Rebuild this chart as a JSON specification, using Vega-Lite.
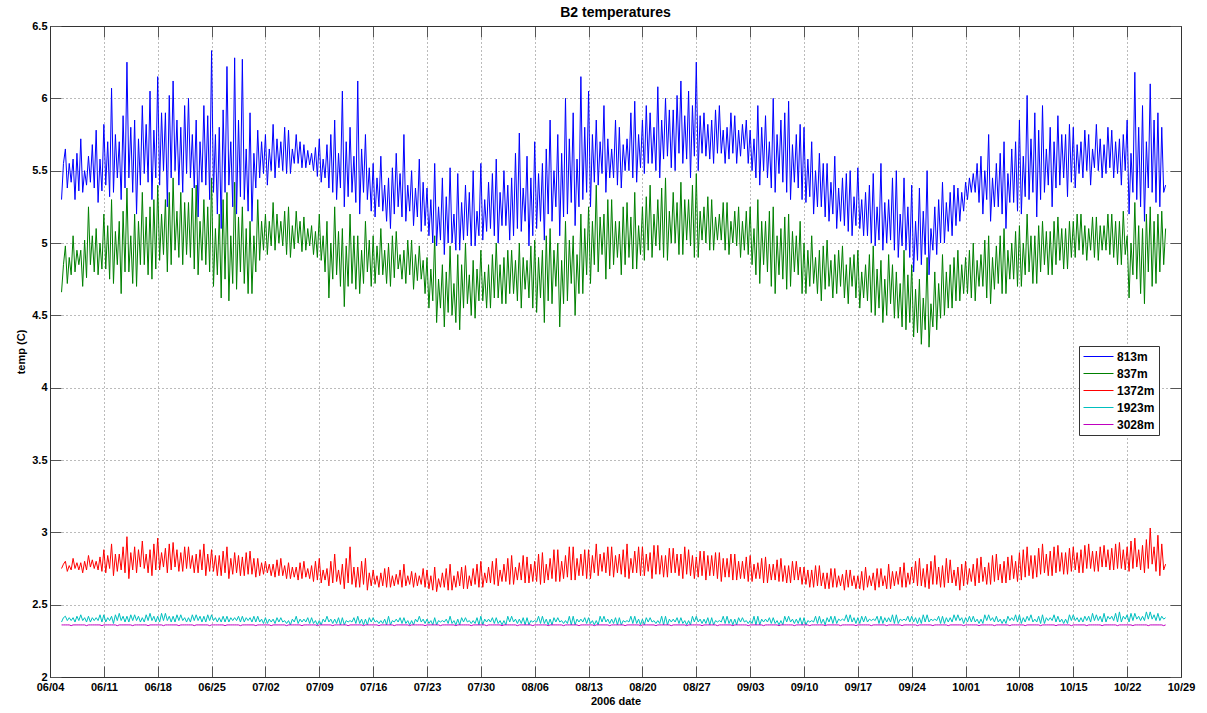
{
"$schema": "https://vega.github.io/schema/vega-lite/v6.json",
"width": 1131,
"height": 651,
"autosize": {"type": "none"},
"padding": {"left": 50, "top": 26, "right": 26, "bottom": 36},
"background": "white",
"config": {"font": "Liberation Sans", "view": {"stroke": null}},
"title": {"text": "B2 temperatures", "fontSize": 14, "fontWeight": "bold", "font": "Liberation Sans", "color": "black", "offset": 0, "anchor": "middle"},
"data": {"values": [
{"d":156.5,"b":5.30,"g":4.66,"r":2.75,"c":2.38,"p":2.36},
{"d":156.75,"b":5.55,"g":4.85,"r":2.78,"c":2.41,"p":2.36},
{"d":157,"b":5.65,"g":4.98,"r":2.80,"c":2.42,"p":2.36},
{"d":157.25,"b":5.38,"g":4.72,"r":2.73,"c":2.39,"p":2.36},
{"d":157.5,"b":5.55,"g":4.90,"r":2.77,"c":2.41,"p":2.36},
{"d":157.75,"b":5.42,"g":4.78,"r":2.74,"c":2.39,"p":2.355},
{"d":158,"b":5.58,"g":5.05,"r":2.82,"c":2.41,"p":2.36},
{"d":158.25,"b":5.30,"g":4.80,"r":2.75,"c":2.38,"p":2.36},
{"d":158.5,"b":5.62,"g":4.95,"r":2.79,"c":2.42,"p":2.36},
{"d":158.75,"b":5.36,"g":4.85,"r":2.74,"c":2.39,"p":2.36},
{"d":159,"b":5.72,"g":4.95,"r":2.79,"c":2.43,"p":2.36},
{"d":159.25,"b":5.35,"g":4.70,"r":2.72,"c":2.39,"p":2.36},
{"d":159.5,"b":5.50,"g":5.02,"r":2.80,"c":2.41,"p":2.36},
{"d":159.75,"b":5.40,"g":4.76,"r":2.74,"c":2.38,"p":2.355},
{"d":160,"b":5.60,"g":5.25,"r":2.84,"c":2.42,"p":2.36},
{"d":160.25,"b":5.42,"g":4.85,"r":2.76,"c":2.38,"p":2.36},
{"d":160.5,"b":5.68,"g":5.05,"r":2.81,"c":2.41,"p":2.36},
{"d":160.75,"b":5.38,"g":4.80,"r":2.75,"c":2.39,"p":2.36},
{"d":161,"b":5.78,"g":5.10,"r":2.80,"c":2.41,"p":2.36},
{"d":161.25,"b":5.28,"g":4.78,"r":2.74,"c":2.39,"p":2.36},
{"d":161.5,"b":5.58,"g":5.00,"r":2.83,"c":2.43,"p":2.36},
{"d":161.75,"b":5.36,"g":4.82,"r":2.73,"c":2.38,"p":2.355},
{"d":162,"b":5.82,"g":5.20,"r":2.88,"c":2.43,"p":2.36},
{"d":162.25,"b":5.40,"g":4.82,"r":2.72,"c":2.38,"p":2.36},
{"d":162.5,"b":5.70,"g":5.12,"r":2.84,"c":2.41,"p":2.36},
{"d":162.75,"b":5.32,"g":4.75,"r":2.75,"c":2.39,"p":2.36},
{"d":163,"b":6.07,"g":5.30,"r":2.92,"c":2.42,"p":2.36},
{"d":163.25,"b":5.35,"g":4.72,"r":2.70,"c":2.37,"p":2.36},
{"d":163.5,"b":5.75,"g":5.08,"r":2.85,"c":2.43,"p":2.36},
{"d":163.75,"b":5.45,"g":4.85,"r":2.73,"c":2.39,"p":2.355},
{"d":164,"b":5.70,"g":5.15,"r":2.85,"c":2.44,"p":2.36},
{"d":164.25,"b":5.30,"g":4.65,"r":2.74,"c":2.39,"p":2.36},
{"d":164.5,"b":5.88,"g":5.22,"r":2.90,"c":2.42,"p":2.36},
{"d":164.75,"b":5.38,"g":4.80,"r":2.72,"c":2.38,"p":2.36},
{"d":165,"b":6.25,"g":5.38,"r":2.97,"c":2.42,"p":2.36},
{"d":165.25,"b":5.45,"g":4.80,"r":2.68,"c":2.38,"p":2.36},
{"d":165.5,"b":5.80,"g":5.05,"r":2.86,"c":2.43,"p":2.36},
{"d":165.75,"b":5.35,"g":4.72,"r":2.74,"c":2.39,"p":2.355},
{"d":166,"b":5.85,"g":5.20,"r":2.90,"c":2.43,"p":2.36},
{"d":166.25,"b":5.20,"g":4.70,"r":2.72,"c":2.39,"p":2.36},
{"d":166.5,"b":5.72,"g":5.15,"r":2.88,"c":2.42,"p":2.36},
{"d":166.75,"b":5.40,"g":4.85,"r":2.76,"c":2.38,"p":2.36},
{"d":167,"b":5.95,"g":5.35,"r":2.94,"c":2.41,"p":2.36},
{"d":167.25,"b":5.48,"g":4.85,"r":2.75,"c":2.38,"p":2.36},
{"d":167.5,"b":5.82,"g":5.18,"r":2.85,"c":2.43,"p":2.36},
{"d":167.75,"b":5.42,"g":4.78,"r":2.72,"c":2.39,"p":2.355},
{"d":168,"b":6.05,"g":5.25,"r":2.88,"c":2.44,"p":2.36},
{"d":168.25,"b":5.30,"g":4.75,"r":2.70,"c":2.39,"p":2.36},
{"d":168.5,"b":5.78,"g":5.30,"r":2.92,"c":2.42,"p":2.36},
{"d":168.75,"b":5.45,"g":4.82,"r":2.74,"c":2.38,"p":2.36},
{"d":169,"b":6.15,"g":5.40,"r":2.96,"c":2.42,"p":2.36},
{"d":169.25,"b":5.40,"g":4.88,"r":2.74,"c":2.38,"p":2.36},
{"d":169.5,"b":5.90,"g":5.20,"r":2.86,"c":2.44,"p":2.36},
{"d":169.75,"b":5.50,"g":4.92,"r":2.76,"c":2.39,"p":2.355},
{"d":170,"b":5.90,"g":5.30,"r":2.89,"c":2.44,"p":2.36},
{"d":170.25,"b":5.25,"g":4.80,"r":2.72,"c":2.39,"p":2.36},
{"d":170.5,"b":6.02,"g":5.35,"r":2.92,"c":2.42,"p":2.36},
{"d":170.75,"b":5.45,"g":4.85,"r":2.74,"c":2.38,"p":2.36},
{"d":171,"b":6.12,"g":5.45,"r":2.93,"c":2.42,"p":2.36},
{"d":171.25,"b":5.50,"g":4.95,"r":2.76,"c":2.38,"p":2.36},
{"d":171.5,"b":5.85,"g":5.22,"r":2.88,"c":2.43,"p":2.36},
{"d":171.75,"b":5.40,"g":4.90,"r":2.73,"c":2.39,"p":2.355},
{"d":172,"b":5.80,"g":5.35,"r":2.86,"c":2.43,"p":2.36},
{"d":172.25,"b":5.35,"g":4.85,"r":2.73,"c":2.39,"p":2.36},
{"d":172.5,"b":5.95,"g":5.28,"r":2.90,"c":2.41,"p":2.36},
{"d":172.75,"b":5.48,"g":4.92,"r":2.75,"c":2.38,"p":2.36},
{"d":173,"b":6.00,"g":5.28,"r":2.90,"c":2.41,"p":2.36},
{"d":173.25,"b":5.45,"g":4.90,"r":2.75,"c":2.38,"p":2.36},
{"d":173.5,"b":5.75,"g":5.38,"r":2.84,"c":2.43,"p":2.36},
{"d":173.75,"b":5.38,"g":4.82,"r":2.72,"c":2.39,"p":2.355},
{"d":174,"b":5.85,"g":5.40,"r":2.85,"c":2.43,"p":2.36},
{"d":174.25,"b":5.18,"g":4.78,"r":2.72,"c":2.39,"p":2.36},
{"d":174.5,"b":5.70,"g":5.15,"r":2.88,"c":2.42,"p":2.36},
{"d":174.75,"b":5.42,"g":4.88,"r":2.74,"c":2.38,"p":2.36},
{"d":175,"b":5.95,"g":5.30,"r":2.92,"c":2.42,"p":2.36},
{"d":175.25,"b":5.40,"g":4.85,"r":2.70,"c":2.38,"p":2.36},
{"d":175.5,"b":5.88,"g":5.25,"r":2.85,"c":2.43,"p":2.36},
{"d":175.75,"b":5.30,"g":4.80,"r":2.73,"c":2.39,"p":2.355},
{"d":176,"b":6.33,"g":5.45,"r":2.88,"c":2.43,"p":2.36},
{"d":176.25,"b":5.35,"g":4.70,"r":2.73,"c":2.39,"p":2.36},
{"d":176.5,"b":5.75,"g":5.10,"r":2.84,"c":2.41,"p":2.36},
{"d":176.75,"b":5.20,"g":4.78,"r":2.70,"c":2.38,"p":2.36},
{"d":177,"b":5.80,"g":5.20,"r":2.84,"c":2.41,"p":2.36},
{"d":177.25,"b":5.10,"g":4.62,"r":2.70,"c":2.38,"p":2.36},
{"d":177.5,"b":5.92,"g":5.30,"r":2.87,"c":2.42,"p":2.36},
{"d":177.75,"b":5.35,"g":4.75,"r":2.72,"c":2.38,"p":2.355},
{"d":178,"b":6.22,"g":5.35,"r":2.90,"c":2.42,"p":2.36},
{"d":178.25,"b":5.40,"g":4.60,"r":2.68,"c":2.38,"p":2.36},
{"d":178.5,"b":5.70,"g":5.05,"r":2.82,"c":2.41,"p":2.36},
{"d":178.75,"b":5.25,"g":4.72,"r":2.71,"c":2.39,"p":2.36},
{"d":179,"b":6.28,"g":5.42,"r":2.86,"c":2.41,"p":2.36},
{"d":179.25,"b":5.20,"g":4.68,"r":2.72,"c":2.39,"p":2.36},
{"d":179.5,"b":5.85,"g":5.18,"r":2.84,"c":2.42,"p":2.36},
{"d":179.75,"b":5.32,"g":4.80,"r":2.70,"c":2.38,"p":2.355},
{"d":180,"b":6.27,"g":5.25,"r":2.83,"c":2.42,"p":2.36},
{"d":180.25,"b":5.30,"g":4.72,"r":2.70,"c":2.38,"p":2.36},
{"d":180.5,"b":5.65,"g":5.10,"r":2.86,"c":2.41,"p":2.36},
{"d":180.75,"b":5.22,"g":4.65,"r":2.71,"c":2.39,"p":2.36},
{"d":181,"b":5.90,"g":5.15,"r":2.87,"c":2.41,"p":2.36},
{"d":181.25,"b":5.15,"g":4.65,"r":2.71,"c":2.38,"p":2.36},
{"d":181.5,"b":5.62,"g":5.05,"r":2.82,"c":2.42,"p":2.36},
{"d":181.75,"b":5.38,"g":4.80,"r":2.69,"c":2.38,"p":2.355},
{"d":182,"b":5.78,"g":5.30,"r":2.82,"c":2.42,"p":2.36},
{"d":182.25,"b":5.45,"g":4.88,"r":2.70,"c":2.38,"p":2.36},
{"d":182.5,"b":5.70,"g":5.15,"r":2.79,"c":2.40,"p":2.36},
{"d":182.75,"b":5.48,"g":4.95,"r":2.71,"c":2.37,"p":2.36},
{"d":183,"b":5.75,"g":5.20,"r":2.80,"c":2.41,"p":2.36},
{"d":183.25,"b":5.40,"g":4.92,"r":2.72,"c":2.37,"p":2.36},
{"d":183.5,"b":5.65,"g":5.15,"r":2.78,"c":2.40,"p":2.36},
{"d":183.75,"b":5.50,"g":4.98,"r":2.70,"c":2.38,"p":2.355},
{"d":184,"b":5.82,"g":5.28,"r":2.78,"c":2.40,"p":2.36},
{"d":184.25,"b":5.45,"g":4.95,"r":2.69,"c":2.37,"p":2.36},
{"d":184.5,"b":5.72,"g":5.20,"r":2.81,"c":2.41,"p":2.36},
{"d":184.75,"b":5.52,"g":5.00,"r":2.70,"c":2.38,"p":2.36},
{"d":185,"b":5.70,"g":5.15,"r":2.82,"c":2.41,"p":2.36},
{"d":185.25,"b":5.50,"g":4.98,"r":2.70,"c":2.38,"p":2.36},
{"d":185.5,"b":5.80,"g":5.22,"r":2.77,"c":2.39,"p":2.36},
{"d":185.75,"b":5.48,"g":4.92,"r":2.68,"c":2.37,"p":2.355},
{"d":186,"b":5.78,"g":5.25,"r":2.79,"c":2.39,"p":2.36},
{"d":186.25,"b":5.48,"g":4.90,"r":2.68,"c":2.36,"p":2.36},
{"d":186.5,"b":5.65,"g":5.12,"r":2.76,"c":2.40,"p":2.36},
{"d":186.75,"b":5.55,"g":4.96,"r":2.69,"c":2.38,"p":2.36},
{"d":187,"b":5.75,"g":5.22,"r":2.76,"c":2.42,"p":2.36},
{"d":187.25,"b":5.55,"g":5.00,"r":2.67,"c":2.37,"p":2.36},
{"d":187.5,"b":5.70,"g":5.15,"r":2.79,"c":2.40,"p":2.36},
{"d":187.75,"b":5.52,"g":4.94,"r":2.68,"c":2.38,"p":2.355},
{"d":188,"b":5.68,"g":5.18,"r":2.80,"c":2.40,"p":2.36},
{"d":188.25,"b":5.52,"g":4.95,"r":2.69,"c":2.38,"p":2.36},
{"d":188.5,"b":5.64,"g":5.10,"r":2.75,"c":2.41,"p":2.36},
{"d":188.75,"b":5.54,"g":4.98,"r":2.68,"c":2.37,"p":2.36},
{"d":189,"b":5.62,"g":5.12,"r":2.77,"c":2.41,"p":2.36},
{"d":189.25,"b":5.50,"g":4.92,"r":2.66,"c":2.37,"p":2.36},
{"d":189.5,"b":5.66,"g":5.08,"r":2.80,"c":2.39,"p":2.36},
{"d":189.75,"b":5.46,"g":4.90,"r":2.67,"c":2.36,"p":2.355},
{"d":190,"b":5.72,"g":5.20,"r":2.82,"c":2.39,"p":2.36},
{"d":190.25,"b":5.42,"g":4.88,"r":2.65,"c":2.36,"p":2.36},
{"d":190.5,"b":5.58,"g":5.05,"r":2.74,"c":2.40,"p":2.36},
{"d":190.75,"b":5.45,"g":4.80,"r":2.67,"c":2.38,"p":2.36},
{"d":191,"b":5.68,"g":5.15,"r":2.75,"c":2.42,"p":2.36},
{"d":191.25,"b":5.38,"g":4.62,"r":2.63,"c":2.38,"p":2.36},
{"d":191.5,"b":5.75,"g":5.00,"r":2.80,"c":2.40,"p":2.36},
{"d":191.75,"b":5.35,"g":4.75,"r":2.65,"c":2.37,"p":2.355},
{"d":192,"b":5.85,"g":5.25,"r":2.85,"c":2.40,"p":2.36},
{"d":192.25,"b":5.30,"g":4.78,"r":2.66,"c":2.37,"p":2.36},
{"d":192.5,"b":5.62,"g":5.08,"r":2.74,"c":2.41,"p":2.36},
{"d":192.75,"b":5.38,"g":4.70,"r":2.64,"c":2.36,"p":2.36},
{"d":193,"b":6.05,"g":5.10,"r":2.78,"c":2.41,"p":2.36},
{"d":193.25,"b":5.25,"g":4.56,"r":2.61,"c":2.36,"p":2.36},
{"d":193.5,"b":5.70,"g":4.98,"r":2.82,"c":2.39,"p":2.36},
{"d":193.75,"b":5.32,"g":4.70,"r":2.65,"c":2.38,"p":2.355},
{"d":194,"b":5.80,"g":5.20,"r":2.90,"c":2.39,"p":2.36},
{"d":194.25,"b":5.35,"g":4.72,"r":2.64,"c":2.38,"p":2.36},
{"d":194.5,"b":5.60,"g":5.05,"r":2.76,"c":2.41,"p":2.36},
{"d":194.75,"b":5.28,"g":4.68,"r":2.62,"c":2.37,"p":2.36},
{"d":195,"b":6.12,"g":5.05,"r":2.76,"c":2.42,"p":2.36},
{"d":195.25,"b":5.20,"g":4.65,"r":2.62,"c":2.37,"p":2.36},
{"d":195.5,"b":5.65,"g":4.95,"r":2.80,"c":2.40,"p":2.36},
{"d":195.75,"b":5.35,"g":4.72,"r":2.64,"c":2.36,"p":2.355},
{"d":196,"b":5.75,"g":5.15,"r":2.82,"c":2.40,"p":2.36},
{"d":196.25,"b":5.30,"g":4.80,"r":2.60,"c":2.36,"p":2.36},
{"d":196.5,"b":5.52,"g":5.02,"r":2.72,"c":2.41,"p":2.36},
{"d":196.75,"b":5.22,"g":4.70,"r":2.63,"c":2.38,"p":2.36},
{"d":197,"b":5.55,"g":5.05,"r":2.74,"c":2.41,"p":2.36},
{"d":197.25,"b":5.18,"g":4.72,"r":2.64,"c":2.38,"p":2.36},
{"d":197.5,"b":5.45,"g":4.98,"r":2.70,"c":2.39,"p":2.36},
{"d":197.75,"b":5.25,"g":4.78,"r":2.62,"c":2.37,"p":2.355},
{"d":198,"b":5.60,"g":5.10,"r":2.72,"c":2.39,"p":2.36},
{"d":198.25,"b":5.22,"g":4.78,"r":2.63,"c":2.37,"p":2.36},
{"d":198.5,"b":5.40,"g":4.95,"r":2.75,"c":2.40,"p":2.36},
{"d":198.75,"b":5.15,"g":4.72,"r":2.62,"c":2.36,"p":2.36},
{"d":199,"b":5.45,"g":5.00,"r":2.76,"c":2.42,"p":2.36},
{"d":199.25,"b":5.10,"g":4.70,"r":2.62,"c":2.36,"p":2.36},
{"d":199.5,"b":5.52,"g":5.05,"r":2.70,"c":2.39,"p":2.36},
{"d":199.75,"b":5.20,"g":4.76,"r":2.63,"c":2.38,"p":2.355},
{"d":200,"b":5.62,"g":5.08,"r":2.71,"c":2.40,"p":2.36},
{"d":200.25,"b":5.25,"g":4.82,"r":2.64,"c":2.38,"p":2.36},
{"d":200.5,"b":5.48,"g":4.92,"r":2.74,"c":2.41,"p":2.36},
{"d":200.75,"b":5.18,"g":4.75,"r":2.62,"c":2.37,"p":2.36},
{"d":201,"b":5.75,"g":4.95,"r":2.78,"c":2.41,"p":2.36},
{"d":201.25,"b":5.15,"g":4.72,"r":2.63,"c":2.37,"p":2.36},
{"d":201.5,"b":5.40,"g":5.02,"r":2.70,"c":2.39,"p":2.36},
{"d":201.75,"b":5.22,"g":4.78,"r":2.64,"c":2.36,"p":2.355},
{"d":202,"b":5.50,"g":5.02,"r":2.73,"c":2.39,"p":2.36},
{"d":202.25,"b":5.12,"g":4.68,"r":2.62,"c":2.36,"p":2.36},
{"d":202.5,"b":5.38,"g":4.92,"r":2.72,"c":2.40,"p":2.36},
{"d":202.75,"b":5.18,"g":4.74,"r":2.63,"c":2.38,"p":2.36},
{"d":203,"b":5.58,"g":4.98,"r":2.70,"c":2.42,"p":2.36},
{"d":203.25,"b":5.08,"g":4.75,"r":2.64,"c":2.38,"p":2.36},
{"d":203.5,"b":5.42,"g":4.88,"r":2.75,"c":2.40,"p":2.36},
{"d":203.75,"b":5.12,"g":4.65,"r":2.62,"c":2.37,"p":2.355},
{"d":204,"b":5.38,"g":4.90,"r":2.74,"c":2.40,"p":2.36},
{"d":204.25,"b":5.05,"g":4.55,"r":2.61,"c":2.37,"p":2.36},
{"d":204.5,"b":5.30,"g":4.82,"r":2.70,"c":2.39,"p":2.36},
{"d":204.75,"b":5.00,"g":4.60,"r":2.60,"c":2.36,"p":2.36},
{"d":205,"b":5.55,"g":5.05,"r":2.76,"c":2.41,"p":2.36},
{"d":205.25,"b":4.98,"g":4.45,"r":2.59,"c":2.36,"p":2.36},
{"d":205.5,"b":5.25,"g":4.75,"r":2.68,"c":2.39,"p":2.36},
{"d":205.75,"b":5.02,"g":4.55,"r":2.62,"c":2.38,"p":2.355},
{"d":206,"b":5.45,"g":4.85,"r":2.72,"c":2.39,"p":2.36},
{"d":206.25,"b":4.92,"g":4.42,"r":2.62,"c":2.38,"p":2.36},
{"d":206.5,"b":5.32,"g":4.80,"r":2.75,"c":2.40,"p":2.36},
{"d":206.75,"b":5.00,"g":4.52,"r":2.60,"c":2.37,"p":2.36},
{"d":207,"b":5.52,"g":4.98,"r":2.78,"c":2.42,"p":2.36},
{"d":207.25,"b":5.00,"g":4.50,"r":2.60,"c":2.37,"p":2.36},
{"d":207.5,"b":5.20,"g":4.72,"r":2.70,"c":2.39,"p":2.36},
{"d":207.75,"b":4.95,"g":4.45,"r":2.62,"c":2.36,"p":2.355},
{"d":208,"b":5.48,"g":4.92,"r":2.73,"c":2.40,"p":2.36},
{"d":208.25,"b":4.95,"g":4.40,"r":2.63,"c":2.36,"p":2.36},
{"d":208.5,"b":5.28,"g":4.85,"r":2.76,"c":2.41,"p":2.36},
{"d":208.75,"b":5.02,"g":4.55,"r":2.61,"c":2.38,"p":2.36},
{"d":209,"b":5.40,"g":5.00,"r":2.77,"c":2.41,"p":2.36},
{"d":209.25,"b":5.05,"g":4.58,"r":2.61,"c":2.38,"p":2.36},
{"d":209.5,"b":5.35,"g":4.78,"r":2.70,"c":2.39,"p":2.36},
{"d":209.75,"b":4.98,"g":4.50,"r":2.63,"c":2.37,"p":2.355},
{"d":210,"b":5.50,"g":4.88,"r":2.75,"c":2.39,"p":2.36},
{"d":210.25,"b":4.98,"g":4.48,"r":2.64,"c":2.37,"p":2.36},
{"d":210.5,"b":5.22,"g":4.82,"r":2.78,"c":2.41,"p":2.36},
{"d":210.75,"b":5.05,"g":4.60,"r":2.62,"c":2.36,"p":2.36},
{"d":211,"b":5.55,"g":4.95,"r":2.80,"c":2.42,"p":2.36},
{"d":211.25,"b":5.02,"g":4.60,"r":2.62,"c":2.36,"p":2.36},
{"d":211.5,"b":5.30,"g":4.80,"r":2.72,"c":2.40,"p":2.36},
{"d":211.75,"b":5.08,"g":4.55,"r":2.65,"c":2.38,"p":2.355},
{"d":212,"b":5.42,"g":4.85,"r":2.76,"c":2.40,"p":2.36},
{"d":212.25,"b":5.10,"g":4.55,"r":2.65,"c":2.38,"p":2.36},
{"d":212.5,"b":5.48,"g":4.92,"r":2.80,"c":2.41,"p":2.36},
{"d":212.75,"b":5.05,"g":4.62,"r":2.64,"c":2.37,"p":2.36},
{"d":213,"b":5.58,"g":5.00,"r":2.82,"c":2.41,"p":2.36},
{"d":213.25,"b":5.00,"g":4.62,"r":2.63,"c":2.37,"p":2.36},
{"d":213.5,"b":5.35,"g":4.85,"r":2.74,"c":2.39,"p":2.36},
{"d":213.75,"b":5.12,"g":4.58,"r":2.66,"c":2.36,"p":2.355},
{"d":214,"b":5.50,"g":4.90,"r":2.78,"c":2.39,"p":2.36},
{"d":214.25,"b":5.12,"g":4.58,"r":2.66,"c":2.36,"p":2.36},
{"d":214.5,"b":5.40,"g":4.95,"r":2.82,"c":2.42,"p":2.36},
{"d":214.75,"b":5.02,"g":4.65,"r":2.64,"c":2.38,"p":2.36},
{"d":215,"b":5.45,"g":4.95,"r":2.84,"c":2.42,"p":2.36},
{"d":215.25,"b":5.05,"g":4.65,"r":2.64,"c":2.38,"p":2.36},
{"d":215.5,"b":5.62,"g":4.88,"r":2.76,"c":2.40,"p":2.36},
{"d":215.75,"b":5.10,"g":4.60,"r":2.67,"c":2.37,"p":2.355},
{"d":216,"b":5.76,"g":5.00,"r":2.79,"c":2.40,"p":2.36},
{"d":216.25,"b":5.08,"g":4.55,"r":2.67,"c":2.37,"p":2.36},
{"d":216.5,"b":5.38,"g":4.90,"r":2.84,"c":2.41,"p":2.36},
{"d":216.75,"b":5.15,"g":4.68,"r":2.65,"c":2.36,"p":2.36},
{"d":217,"b":5.60,"g":4.88,"r":2.83,"c":2.41,"p":2.36},
{"d":217.25,"b":4.98,"g":4.62,"r":2.65,"c":2.36,"p":2.36},
{"d":217.5,"b":5.45,"g":4.98,"r":2.78,"c":2.39,"p":2.36},
{"d":217.75,"b":5.05,"g":4.55,"r":2.66,"c":2.38,"p":2.355},
{"d":218,"b":5.70,"g":5.02,"r":2.80,"c":2.39,"p":2.36},
{"d":218.25,"b":5.10,"g":4.52,"r":2.66,"c":2.38,"p":2.36},
{"d":218.5,"b":5.48,"g":4.90,"r":2.85,"c":2.42,"p":2.36},
{"d":218.75,"b":5.15,"g":4.62,"r":2.64,"c":2.37,"p":2.36},
{"d":219,"b":5.55,"g":4.95,"r":2.86,"c":2.42,"p":2.36},
{"d":219.25,"b":5.02,"g":4.45,"r":2.65,"c":2.37,"p":2.36},
{"d":219.5,"b":5.65,"g":5.05,"r":2.78,"c":2.40,"p":2.36},
{"d":219.75,"b":5.20,"g":4.60,"r":2.67,"c":2.36,"p":2.355},
{"d":220,"b":5.85,"g":5.10,"r":2.82,"c":2.40,"p":2.36},
{"d":220.25,"b":5.15,"g":4.58,"r":2.68,"c":2.36,"p":2.36},
{"d":220.5,"b":5.50,"g":4.95,"r":2.88,"c":2.41,"p":2.36},
{"d":220.75,"b":5.25,"g":4.70,"r":2.66,"c":2.38,"p":2.36},
{"d":221,"b":5.75,"g":5.00,"r":2.88,"c":2.41,"p":2.36},
{"d":221.25,"b":5.05,"g":4.42,"r":2.66,"c":2.38,"p":2.36},
{"d":221.5,"b":5.62,"g":4.88,"r":2.80,"c":2.39,"p":2.36},
{"d":221.75,"b":5.18,"g":4.58,"r":2.68,"c":2.37,"p":2.355},
{"d":222,"b":6.00,"g":5.15,"r":2.84,"c":2.39,"p":2.36},
{"d":222.25,"b":5.20,"g":4.60,"r":2.69,"c":2.37,"p":2.36},
{"d":222.5,"b":5.72,"g":5.02,"r":2.90,"c":2.42,"p":2.36},
{"d":222.75,"b":5.28,"g":4.72,"r":2.67,"c":2.36,"p":2.36},
{"d":223,"b":5.90,"g":5.05,"r":2.90,"c":2.42,"p":2.36},
{"d":223.25,"b":5.12,"g":4.50,"r":2.67,"c":2.36,"p":2.36},
{"d":223.5,"b":5.58,"g":4.92,"r":2.82,"c":2.40,"p":2.36},
{"d":223.75,"b":5.25,"g":4.65,"r":2.70,"c":2.38,"p":2.355},
{"d":224,"b":6.15,"g":5.20,"r":2.85,"c":2.40,"p":2.36},
{"d":224.25,"b":5.30,"g":4.65,"r":2.70,"c":2.38,"p":2.36},
{"d":224.5,"b":5.80,"g":5.10,"r":2.88,"c":2.41,"p":2.36},
{"d":224.75,"b":5.35,"g":4.78,"r":2.68,"c":2.37,"p":2.36},
{"d":225,"b":6.05,"g":5.25,"r":2.88,"c":2.41,"p":2.36},
{"d":225.25,"b":5.25,"g":4.72,"r":2.68,"c":2.37,"p":2.36},
{"d":225.5,"b":5.75,"g":5.15,"r":2.84,"c":2.39,"p":2.36},
{"d":225.75,"b":5.42,"g":4.85,"r":2.72,"c":2.36,"p":2.355},
{"d":226,"b":5.85,"g":5.40,"r":2.92,"c":2.39,"p":2.36},
{"d":226.25,"b":5.40,"g":4.80,"r":2.70,"c":2.36,"p":2.36},
{"d":226.5,"b":5.70,"g":5.18,"r":2.85,"c":2.42,"p":2.36},
{"d":226.75,"b":5.48,"g":4.92,"r":2.73,"c":2.38,"p":2.36},
{"d":227,"b":5.95,"g":5.20,"r":2.86,"c":2.42,"p":2.36},
{"d":227.25,"b":5.35,"g":4.75,"r":2.72,"c":2.38,"p":2.36},
{"d":227.5,"b":5.72,"g":5.30,"r":2.90,"c":2.40,"p":2.36},
{"d":227.75,"b":5.45,"g":4.82,"r":2.70,"c":2.37,"p":2.355},
{"d":228,"b":5.65,"g":5.30,"r":2.90,"c":2.40,"p":2.36},
{"d":228.25,"b":5.45,"g":4.85,"r":2.69,"c":2.37,"p":2.36},
{"d":228.5,"b":5.85,"g":5.15,"r":2.84,"c":2.41,"p":2.36},
{"d":228.75,"b":5.40,"g":4.90,"r":2.72,"c":2.36,"p":2.36},
{"d":229,"b":5.80,"g":5.15,"r":2.85,"c":2.41,"p":2.36},
{"d":229.25,"b":5.38,"g":4.78,"r":2.71,"c":2.36,"p":2.36},
{"d":229.5,"b":5.68,"g":5.25,"r":2.88,"c":2.39,"p":2.36},
{"d":229.75,"b":5.50,"g":4.85,"r":2.69,"c":2.38,"p":2.355},
{"d":230,"b":5.72,"g":5.28,"r":2.92,"c":2.39,"p":2.36},
{"d":230.25,"b":5.50,"g":4.90,"r":2.68,"c":2.38,"p":2.36},
{"d":230.5,"b":5.90,"g":5.18,"r":2.82,"c":2.42,"p":2.36},
{"d":230.75,"b":5.45,"g":4.82,"r":2.72,"c":2.37,"p":2.36},
{"d":231,"b":5.98,"g":5.35,"r":2.87,"c":2.42,"p":2.36},
{"d":231.25,"b":5.42,"g":4.82,"r":2.72,"c":2.37,"p":2.36},
{"d":231.5,"b":5.75,"g":5.12,"r":2.90,"c":2.40,"p":2.36},
{"d":231.75,"b":5.52,"g":4.92,"r":2.70,"c":2.36,"p":2.355},
{"d":232,"b":5.85,"g":5.25,"r":2.90,"c":2.40,"p":2.36},
{"d":232.25,"b":5.48,"g":4.88,"r":2.70,"c":2.36,"p":2.36},
{"d":232.5,"b":5.95,"g":5.32,"r":2.85,"c":2.41,"p":2.36},
{"d":232.75,"b":5.55,"g":4.95,"r":2.73,"c":2.38,"p":2.36},
{"d":233,"b":5.90,"g":5.40,"r":2.86,"c":2.41,"p":2.36},
{"d":233.25,"b":5.55,"g":4.90,"r":2.68,"c":2.38,"p":2.36},
{"d":233.5,"b":5.80,"g":5.20,"r":2.91,"c":2.39,"p":2.36},
{"d":233.75,"b":5.50,"g":4.98,"r":2.71,"c":2.37,"p":2.355},
{"d":234,"b":6.08,"g":5.30,"r":2.91,"c":2.39,"p":2.36},
{"d":234.25,"b":5.45,"g":4.95,"r":2.71,"c":2.37,"p":2.36},
{"d":234.5,"b":5.85,"g":5.38,"r":2.84,"c":2.42,"p":2.36},
{"d":234.75,"b":5.58,"g":4.90,"r":2.69,"c":2.36,"p":2.36},
{"d":235,"b":6.00,"g":5.45,"r":2.84,"c":2.42,"p":2.36},
{"d":235.25,"b":5.60,"g":4.88,"r":2.69,"c":2.36,"p":2.36},
{"d":235.5,"b":5.92,"g":5.22,"r":2.89,"c":2.40,"p":2.36},
{"d":235.75,"b":5.52,"g":5.00,"r":2.72,"c":2.38,"p":2.355},
{"d":236,"b":5.92,"g":5.35,"r":2.89,"c":2.40,"p":2.36},
{"d":236.25,"b":5.50,"g":5.00,"r":2.72,"c":2.38,"p":2.36},
{"d":236.5,"b":6.02,"g":5.28,"r":2.85,"c":2.41,"p":2.36},
{"d":236.75,"b":5.62,"g":4.92,"r":2.70,"c":2.37,"p":2.36},
{"d":237,"b":6.12,"g":5.42,"r":2.85,"c":2.41,"p":2.36},
{"d":237.25,"b":5.55,"g":4.92,"r":2.68,"c":2.37,"p":2.36},
{"d":237.5,"b":5.88,"g":5.30,"r":2.90,"c":2.39,"p":2.36},
{"d":237.75,"b":5.58,"g":5.02,"r":2.71,"c":2.36,"p":2.355},
{"d":238,"b":6.05,"g":5.30,"r":2.88,"c":2.39,"p":2.36},
{"d":238.25,"b":5.45,"g":4.98,"r":2.70,"c":2.36,"p":2.36},
{"d":238.5,"b":5.95,"g":5.40,"r":2.84,"c":2.42,"p":2.36},
{"d":238.75,"b":5.60,"g":4.90,"r":2.68,"c":2.38,"p":2.36},
{"d":239,"b":6.25,"g":5.48,"r":2.83,"c":2.42,"p":2.36},
{"d":239.25,"b":5.50,"g":4.90,"r":2.69,"c":2.38,"p":2.36},
{"d":239.5,"b":5.88,"g":5.22,"r":2.87,"c":2.40,"p":2.36},
{"d":239.75,"b":5.62,"g":5.02,"r":2.70,"c":2.37,"p":2.355},
{"d":240,"b":5.90,"g":5.25,"r":2.87,"c":2.40,"p":2.36},
{"d":240.25,"b":5.60,"g":5.00,"r":2.67,"c":2.37,"p":2.36},
{"d":240.5,"b":5.82,"g":5.32,"r":2.84,"c":2.41,"p":2.36},
{"d":240.75,"b":5.58,"g":4.95,"r":2.70,"c":2.36,"p":2.36},
{"d":241,"b":5.85,"g":5.30,"r":2.84,"c":2.41,"p":2.36},
{"d":241.25,"b":5.55,"g":4.95,"r":2.70,"c":2.36,"p":2.36},
{"d":241.5,"b":5.92,"g":5.18,"r":2.86,"c":2.39,"p":2.36},
{"d":241.75,"b":5.62,"g":5.02,"r":2.68,"c":2.38,"p":2.355},
{"d":242,"b":5.95,"g":5.20,"r":2.86,"c":2.39,"p":2.36},
{"d":242.25,"b":5.62,"g":5.02,"r":2.66,"c":2.38,"p":2.36},
{"d":242.5,"b":5.78,"g":5.28,"r":2.82,"c":2.42,"p":2.36},
{"d":242.75,"b":5.55,"g":4.95,"r":2.69,"c":2.37,"p":2.36},
{"d":243,"b":5.80,"g":5.28,"r":2.82,"c":2.42,"p":2.36},
{"d":243.25,"b":5.58,"g":4.92,"r":2.69,"c":2.37,"p":2.36},
{"d":243.5,"b":5.90,"g":5.15,"r":2.85,"c":2.40,"p":2.36},
{"d":243.75,"b":5.62,"g":5.00,"r":2.67,"c":2.36,"p":2.355},
{"d":244,"b":5.88,"g":5.22,"r":2.85,"c":2.40,"p":2.36},
{"d":244.25,"b":5.55,"g":4.98,"r":2.67,"c":2.36,"p":2.36},
{"d":244.5,"b":5.78,"g":5.25,"r":2.80,"c":2.41,"p":2.36},
{"d":244.75,"b":5.60,"g":4.90,"r":2.68,"c":2.38,"p":2.36},
{"d":245,"b":5.82,"g":5.15,"r":2.80,"c":2.41,"p":2.36},
{"d":245.25,"b":5.65,"g":4.95,"r":2.68,"c":2.38,"p":2.36},
{"d":245.5,"b":5.85,"g":5.22,"r":2.83,"c":2.39,"p":2.36},
{"d":245.75,"b":5.55,"g":4.92,"r":2.66,"c":2.37,"p":2.355},
{"d":246,"b":5.78,"g":5.25,"r":2.84,"c":2.39,"p":2.36},
{"d":246.25,"b":5.50,"g":4.85,"r":2.66,"c":2.37,"p":2.36},
{"d":246.5,"b":5.72,"g":5.10,"r":2.78,"c":2.42,"p":2.36},
{"d":246.75,"b":5.45,"g":4.78,"r":2.68,"c":2.36,"p":2.36},
{"d":247,"b":5.95,"g":5.30,"r":2.79,"c":2.42,"p":2.36},
{"d":247.25,"b":5.40,"g":4.72,"r":2.68,"c":2.36,"p":2.36},
{"d":247.5,"b":5.80,"g":5.15,"r":2.82,"c":2.40,"p":2.36},
{"d":247.75,"b":5.50,"g":4.85,"r":2.65,"c":2.38,"p":2.355},
{"d":248,"b":5.88,"g":5.15,"r":2.83,"c":2.40,"p":2.36},
{"d":248.25,"b":5.45,"g":4.80,"r":2.65,"c":2.38,"p":2.36},
{"d":248.5,"b":5.70,"g":5.22,"r":2.78,"c":2.41,"p":2.36},
{"d":248.75,"b":5.38,"g":4.70,"r":2.67,"c":2.37,"p":2.36},
{"d":249,"b":6.00,"g":5.25,"r":2.78,"c":2.41,"p":2.36},
{"d":249.25,"b":5.35,"g":4.65,"r":2.67,"c":2.37,"p":2.36},
{"d":249.5,"b":5.75,"g":5.05,"r":2.81,"c":2.39,"p":2.36},
{"d":249.75,"b":5.48,"g":4.78,"r":2.66,"c":2.36,"p":2.355},
{"d":250,"b":5.85,"g":5.10,"r":2.82,"c":2.39,"p":2.36},
{"d":250.25,"b":5.42,"g":4.75,"r":2.66,"c":2.36,"p":2.36},
{"d":250.5,"b":5.90,"g":5.18,"r":2.77,"c":2.42,"p":2.36},
{"d":250.75,"b":5.35,"g":4.68,"r":2.65,"c":2.38,"p":2.36},
{"d":251,"b":5.98,"g":5.20,"r":2.77,"c":2.42,"p":2.36},
{"d":251.25,"b":5.30,"g":4.70,"r":2.65,"c":2.38,"p":2.36},
{"d":251.5,"b":5.68,"g":5.08,"r":2.80,"c":2.40,"p":2.36},
{"d":251.75,"b":5.42,"g":4.80,"r":2.67,"c":2.37,"p":2.355},
{"d":252,"b":5.75,"g":5.05,"r":2.80,"c":2.40,"p":2.36},
{"d":252.25,"b":5.38,"g":4.78,"r":2.67,"c":2.37,"p":2.36},
{"d":252.5,"b":5.82,"g":5.15,"r":2.76,"c":2.41,"p":2.36},
{"d":252.75,"b":5.30,"g":4.65,"r":2.64,"c":2.36,"p":2.36},
{"d":253,"b":5.80,"g":5.00,"r":2.76,"c":2.41,"p":2.36},
{"d":253.25,"b":5.28,"g":4.65,"r":2.64,"c":2.36,"p":2.36},
{"d":253.5,"b":5.58,"g":4.95,"r":2.74,"c":2.39,"p":2.36},
{"d":253.75,"b":5.32,"g":4.70,"r":2.62,"c":2.38,"p":2.355},
{"d":254,"b":5.70,"g":5.05,"r":2.74,"c":2.39,"p":2.36},
{"d":254.25,"b":5.20,"g":4.72,"r":2.62,"c":2.38,"p":2.36},
{"d":254.5,"b":5.50,"g":4.90,"r":2.77,"c":2.42,"p":2.36},
{"d":254.75,"b":5.25,"g":4.65,"r":2.63,"c":2.37,"p":2.36},
{"d":255,"b":5.62,"g":4.95,"r":2.77,"c":2.42,"p":2.36},
{"d":255.25,"b":5.25,"g":4.60,"r":2.63,"c":2.37,"p":2.36},
{"d":255.5,"b":5.55,"g":4.98,"r":2.72,"c":2.40,"p":2.36},
{"d":255.75,"b":5.18,"g":4.68,"r":2.61,"c":2.36,"p":2.355},
{"d":256,"b":5.55,"g":5.02,"r":2.72,"c":2.41,"p":2.36},
{"d":256.25,"b":5.15,"g":4.70,"r":2.61,"c":2.38,"p":2.36},
{"d":256.5,"b":5.42,"g":4.88,"r":2.75,"c":2.42,"p":2.36},
{"d":256.75,"b":5.20,"g":4.62,"r":2.62,"c":2.37,"p":2.36},
{"d":257,"b":5.60,"g":4.92,"r":2.75,"c":2.42,"p":2.36},
{"d":257.25,"b":5.10,"g":4.65,"r":2.62,"c":2.37,"p":2.36},
{"d":257.5,"b":5.38,"g":4.95,"r":2.70,"c":2.40,"p":2.36},
{"d":257.75,"b":5.15,"g":4.70,"r":2.63,"c":2.39,"p":2.355},
{"d":258,"b":5.45,"g":4.98,"r":2.71,"c":2.40,"p":2.36},
{"d":258.25,"b":5.12,"g":4.62,"r":2.60,"c":2.39,"p":2.36},
{"d":258.5,"b":5.48,"g":4.85,"r":2.74,"c":2.43,"p":2.36},
{"d":258.75,"b":5.08,"g":4.58,"r":2.62,"c":2.38,"p":2.36},
{"d":259,"b":5.50,"g":4.90,"r":2.74,"c":2.43,"p":2.36},
{"d":259.25,"b":5.05,"g":4.70,"r":2.63,"c":2.38,"p":2.36},
{"d":259.5,"b":5.32,"g":4.92,"r":2.70,"c":2.41,"p":2.36},
{"d":259.75,"b":5.12,"g":4.62,"r":2.61,"c":2.37,"p":2.355},
{"d":260,"b":5.52,"g":4.95,"r":2.70,"c":2.41,"p":2.36},
{"d":260.25,"b":5.10,"g":4.55,"r":2.61,"c":2.37,"p":2.36},
{"d":260.5,"b":5.30,"g":4.80,"r":2.73,"c":2.42,"p":2.36},
{"d":260.75,"b":5.05,"g":4.62,"r":2.60,"c":2.38,"p":2.36},
{"d":261,"b":5.35,"g":4.85,"r":2.76,"c":2.42,"p":2.36},
{"d":261.25,"b":5.05,"g":4.60,"r":2.62,"c":2.38,"p":2.36},
{"d":261.5,"b":5.40,"g":4.92,"r":2.70,"c":2.40,"p":2.36},
{"d":261.75,"b":5.00,"g":4.52,"r":2.63,"c":2.39,"p":2.355},
{"d":262,"b":5.48,"g":4.98,"r":2.72,"c":2.40,"p":2.36},
{"d":262.25,"b":4.98,"g":4.50,"r":2.60,"c":2.39,"p":2.36},
{"d":262.5,"b":5.25,"g":4.82,"r":2.75,"c":2.42,"p":2.36},
{"d":262.75,"b":5.02,"g":4.55,"r":2.62,"c":2.37,"p":2.36},
{"d":263,"b":5.55,"g":4.88,"r":2.75,"c":2.42,"p":2.36},
{"d":263.25,"b":4.95,"g":4.45,"r":2.63,"c":2.37,"p":2.36},
{"d":263.5,"b":5.28,"g":4.75,"r":2.70,"c":2.41,"p":2.36},
{"d":263.75,"b":5.00,"g":4.50,"r":2.61,"c":2.38,"p":2.355},
{"d":264,"b":5.30,"g":4.92,"r":2.78,"c":2.41,"p":2.36},
{"d":264.25,"b":5.02,"g":4.58,"r":2.61,"c":2.38,"p":2.36},
{"d":264.5,"b":5.45,"g":4.85,"r":2.73,"c":2.43,"p":2.36},
{"d":264.75,"b":4.95,"g":4.48,"r":2.63,"c":2.37,"p":2.36},
{"d":265,"b":5.50,"g":4.80,"r":2.73,"c":2.43,"p":2.36},
{"d":265.25,"b":4.90,"g":4.48,"r":2.64,"c":2.37,"p":2.36},
{"d":265.5,"b":5.20,"g":4.72,"r":2.76,"c":2.40,"p":2.36},
{"d":265.75,"b":4.98,"g":4.42,"r":2.62,"c":2.39,"p":2.355},
{"d":266,"b":5.45,"g":4.95,"r":2.79,"c":2.40,"p":2.36},
{"d":266.25,"b":4.95,"g":4.40,"r":2.62,"c":2.39,"p":2.36},
{"d":266.5,"b":5.25,"g":4.78,"r":2.72,"c":2.42,"p":2.36},
{"d":266.75,"b":4.90,"g":4.45,"r":2.64,"c":2.38,"p":2.36},
{"d":267,"b":5.40,"g":4.85,"r":2.76,"c":2.42,"p":2.36},
{"d":267.25,"b":4.80,"g":4.35,"r":2.65,"c":2.38,"p":2.36},
{"d":267.5,"b":5.15,"g":4.68,"r":2.80,"c":2.41,"p":2.36},
{"d":267.75,"b":4.88,"g":4.38,"r":2.63,"c":2.37,"p":2.355},
{"d":268,"b":5.38,"g":4.75,"r":2.82,"c":2.41,"p":2.36},
{"d":268.25,"b":4.85,"g":4.30,"r":2.63,"c":2.37,"p":2.36},
{"d":268.5,"b":5.22,"g":4.62,"r":2.75,"c":2.43,"p":2.36},
{"d":268.75,"b":4.92,"g":4.40,"r":2.62,"c":2.38,"p":2.36},
{"d":269,"b":5.50,"g":4.90,"r":2.78,"c":2.43,"p":2.36},
{"d":269.25,"b":4.78,"g":4.28,"r":2.61,"c":2.38,"p":2.36},
{"d":269.5,"b":5.10,"g":4.58,"r":2.80,"c":2.40,"p":2.36},
{"d":269.75,"b":4.95,"g":4.42,"r":2.64,"c":2.39,"p":2.355},
{"d":270,"b":5.25,"g":4.80,"r":2.84,"c":2.40,"p":2.36},
{"d":270.25,"b":4.92,"g":4.40,"r":2.64,"c":2.39,"p":2.36},
{"d":270.5,"b":5.30,"g":4.72,"r":2.76,"c":2.42,"p":2.36},
{"d":270.75,"b":5.00,"g":4.48,"r":2.62,"c":2.37,"p":2.36},
{"d":271,"b":5.42,"g":4.92,"r":2.77,"c":2.42,"p":2.36},
{"d":271.25,"b":5.00,"g":4.50,"r":2.62,"c":2.37,"p":2.36},
{"d":271.5,"b":5.28,"g":4.80,"r":2.82,"c":2.41,"p":2.36},
{"d":271.75,"b":5.08,"g":4.55,"r":2.65,"c":2.38,"p":2.355},
{"d":272,"b":5.35,"g":4.85,"r":2.81,"c":2.41,"p":2.36},
{"d":272.25,"b":5.05,"g":4.55,"r":2.65,"c":2.38,"p":2.36},
{"d":272.5,"b":5.40,"g":4.90,"r":2.74,"c":2.43,"p":2.36},
{"d":272.75,"b":5.12,"g":4.60,"r":2.63,"c":2.39,"p":2.36},
{"d":273,"b":5.38,"g":4.95,"r":2.76,"c":2.43,"p":2.36},
{"d":273.25,"b":5.15,"g":4.60,"r":2.60,"c":2.39,"p":2.36},
{"d":273.5,"b":5.35,"g":4.85,"r":2.78,"c":2.41,"p":2.36},
{"d":273.75,"b":5.22,"g":4.65,"r":2.63,"c":2.37,"p":2.355},
{"d":274,"b":5.42,"g":4.90,"r":2.80,"c":2.41,"p":2.36},
{"d":274.25,"b":5.30,"g":4.65,"r":2.64,"c":2.38,"p":2.36},
{"d":274.5,"b":5.45,"g":4.95,"r":2.75,"c":2.42,"p":2.36},
{"d":274.75,"b":5.35,"g":4.62,"r":2.66,"c":2.38,"p":2.36},
{"d":275,"b":5.48,"g":5.00,"r":2.78,"c":2.42,"p":2.36},
{"d":275.25,"b":5.35,"g":4.60,"r":2.63,"c":2.38,"p":2.36},
{"d":275.5,"b":5.55,"g":4.88,"r":2.82,"c":2.40,"p":2.36},
{"d":275.75,"b":5.28,"g":4.70,"r":2.65,"c":2.37,"p":2.355},
{"d":276,"b":5.60,"g":4.92,"r":2.83,"c":2.40,"p":2.36},
{"d":276.25,"b":5.20,"g":4.70,"r":2.66,"c":2.37,"p":2.36},
{"d":276.5,"b":5.50,"g":5.02,"r":2.76,"c":2.43,"p":2.36},
{"d":276.75,"b":5.30,"g":4.62,"r":2.64,"c":2.39,"p":2.36},
{"d":277,"b":5.75,"g":5.05,"r":2.79,"c":2.43,"p":2.36},
{"d":277.25,"b":5.15,"g":4.58,"r":2.64,"c":2.39,"p":2.36},
{"d":277.5,"b":5.45,"g":4.90,"r":2.84,"c":2.41,"p":2.36},
{"d":277.75,"b":5.25,"g":4.68,"r":2.66,"c":2.38,"p":2.355},
{"d":278,"b":5.55,"g":4.98,"r":2.85,"c":2.42,"p":2.36},
{"d":278.25,"b":5.25,"g":4.72,"r":2.67,"c":2.38,"p":2.36},
{"d":278.5,"b":5.62,"g":5.05,"r":2.78,"c":2.40,"p":2.36},
{"d":278.75,"b":5.20,"g":4.65,"r":2.65,"c":2.37,"p":2.36},
{"d":279,"b":5.70,"g":5.10,"r":2.80,"c":2.40,"p":2.36},
{"d":279.25,"b":5.10,"g":4.65,"r":2.65,"c":2.37,"p":2.36},
{"d":279.5,"b":5.48,"g":4.95,"r":2.83,"c":2.42,"p":2.36},
{"d":279.75,"b":5.28,"g":4.75,"r":2.67,"c":2.39,"p":2.355},
{"d":280,"b":5.65,"g":5.00,"r":2.84,"c":2.41,"p":2.36},
{"d":280.25,"b":5.28,"g":4.75,"r":2.68,"c":2.39,"p":2.36},
{"d":280.5,"b":5.70,"g":5.08,"r":2.80,"c":2.43,"p":2.36},
{"d":280.75,"b":5.22,"g":4.70,"r":2.66,"c":2.38,"p":2.36},
{"d":281,"b":5.85,"g":5.12,"r":2.86,"c":2.43,"p":2.36},
{"d":281.25,"b":5.20,"g":4.70,"r":2.67,"c":2.37,"p":2.36},
{"d":281.5,"b":5.60,"g":5.00,"r":2.88,"c":2.41,"p":2.36},
{"d":281.75,"b":5.32,"g":4.78,"r":2.69,"c":2.38,"p":2.355},
{"d":282,"b":6.02,"g":5.20,"r":2.90,"c":2.42,"p":2.36},
{"d":282.25,"b":5.30,"g":4.80,"r":2.70,"c":2.39,"p":2.36},
{"d":282.5,"b":5.72,"g":5.05,"r":2.84,"c":2.43,"p":2.36},
{"d":282.75,"b":5.35,"g":4.72,"r":2.68,"c":2.38,"p":2.36},
{"d":283,"b":5.90,"g":5.05,"r":2.84,"c":2.40,"p":2.36},
{"d":283.25,"b":5.18,"g":4.72,"r":2.69,"c":2.38,"p":2.36},
{"d":283.5,"b":5.78,"g":5.12,"r":2.89,"c":2.42,"p":2.36},
{"d":283.75,"b":5.30,"g":4.80,"r":2.71,"c":2.37,"p":2.355},
{"d":284,"b":5.95,"g":5.15,"r":2.92,"c":2.43,"p":2.36},
{"d":284.25,"b":5.35,"g":4.85,"r":2.72,"c":2.37,"p":2.36},
{"d":284.5,"b":5.65,"g":5.08,"r":2.85,"c":2.41,"p":2.36},
{"d":284.75,"b":5.40,"g":4.78,"r":2.70,"c":2.39,"p":2.36},
{"d":285,"b":5.80,"g":5.08,"r":2.87,"c":2.41,"p":2.36},
{"d":285.25,"b":5.25,"g":4.78,"r":2.70,"c":2.39,"p":2.36},
{"d":285.5,"b":5.70,"g":5.15,"r":2.90,"c":2.43,"p":2.36},
{"d":285.75,"b":5.38,"g":4.85,"r":2.72,"c":2.38,"p":2.355},
{"d":286,"b":5.88,"g":5.18,"r":2.91,"c":2.42,"p":2.36},
{"d":286.25,"b":5.40,"g":4.88,"r":2.73,"c":2.38,"p":2.36},
{"d":286.5,"b":5.75,"g":5.10,"r":2.86,"c":2.40,"p":2.36},
{"d":286.75,"b":5.45,"g":4.82,"r":2.71,"c":2.37,"p":2.36},
{"d":287,"b":5.75,"g":5.10,"r":2.86,"c":2.40,"p":2.36},
{"d":287.25,"b":5.32,"g":4.82,"r":2.71,"c":2.37,"p":2.36},
{"d":287.5,"b":5.82,"g":5.15,"r":2.89,"c":2.43,"p":2.36},
{"d":287.75,"b":5.42,"g":4.90,"r":2.73,"c":2.39,"p":2.355},
{"d":288,"b":5.80,"g":5.15,"r":2.90,"c":2.43,"p":2.36},
{"d":288.25,"b":5.38,"g":4.90,"r":2.74,"c":2.39,"p":2.36},
{"d":288.5,"b":5.68,"g":5.20,"r":2.86,"c":2.41,"p":2.36},
{"d":288.75,"b":5.48,"g":4.95,"r":2.72,"c":2.38,"p":2.36},
{"d":289,"b":5.70,"g":5.20,"r":2.88,"c":2.41,"p":2.36},
{"d":289.25,"b":5.45,"g":4.92,"r":2.72,"c":2.38,"p":2.36},
{"d":289.5,"b":5.78,"g":5.12,"r":2.91,"c":2.42,"p":2.36},
{"d":289.75,"b":5.50,"g":4.88,"r":2.75,"c":2.39,"p":2.355},
{"d":290,"b":5.75,"g":5.10,"r":2.92,"c":2.42,"p":2.36},
{"d":290.25,"b":5.40,"g":4.95,"r":2.75,"c":2.38,"p":2.36},
{"d":290.5,"b":5.65,"g":5.18,"r":2.87,"c":2.44,"p":2.36},
{"d":290.75,"b":5.52,"g":4.90,"r":2.73,"c":2.39,"p":2.36},
{"d":291,"b":5.82,"g":5.18,"r":2.87,"c":2.43,"p":2.36},
{"d":291.25,"b":5.50,"g":4.88,"r":2.73,"c":2.39,"p":2.36},
{"d":291.5,"b":5.72,"g":5.12,"r":2.90,"c":2.42,"p":2.36},
{"d":291.75,"b":5.45,"g":4.95,"r":2.76,"c":2.38,"p":2.355},
{"d":292,"b":5.68,"g":5.12,"r":2.91,"c":2.44,"p":2.36},
{"d":292.25,"b":5.48,"g":4.95,"r":2.76,"c":2.38,"p":2.36},
{"d":292.5,"b":5.80,"g":5.20,"r":2.88,"c":2.42,"p":2.36},
{"d":292.75,"b":5.52,"g":4.92,"r":2.74,"c":2.40,"p":2.36},
{"d":293,"b":5.78,"g":5.20,"r":2.89,"c":2.42,"p":2.36},
{"d":293.25,"b":5.45,"g":4.90,"r":2.74,"c":2.39,"p":2.36},
{"d":293.5,"b":5.70,"g":5.15,"r":2.92,"c":2.44,"p":2.36},
{"d":293.75,"b":5.48,"g":4.85,"r":2.75,"c":2.38,"p":2.355},
{"d":294,"b":5.72,"g":5.15,"r":2.93,"c":2.45,"p":2.36},
{"d":294.25,"b":5.40,"g":4.85,"r":2.75,"c":2.38,"p":2.36},
{"d":294.5,"b":5.75,"g":5.22,"r":2.88,"c":2.42,"p":2.36},
{"d":294.75,"b":5.50,"g":4.92,"r":2.74,"c":2.40,"p":2.36},
{"d":295,"b":5.85,"g":5.05,"r":2.90,"c":2.43,"p":2.36},
{"d":295.25,"b":5.20,"g":4.62,"r":2.73,"c":2.38,"p":2.36},
{"d":295.5,"b":5.62,"g":5.00,"r":2.94,"c":2.44,"p":2.36},
{"d":295.75,"b":5.35,"g":4.78,"r":2.75,"c":2.39,"p":2.355},
{"d":296,"b":6.18,"g":5.28,"r":2.96,"c":2.44,"p":2.36},
{"d":296.25,"b":5.30,"g":4.75,"r":2.76,"c":2.40,"p":2.36},
{"d":296.5,"b":5.80,"g":5.12,"r":2.88,"c":2.42,"p":2.36},
{"d":296.75,"b":5.25,"g":4.65,"r":2.74,"c":2.39,"p":2.36},
{"d":297,"b":5.95,"g":5.10,"r":2.91,"c":2.42,"p":2.36},
{"d":297.25,"b":5.15,"g":4.58,"r":2.72,"c":2.39,"p":2.36},
{"d":297.5,"b":5.70,"g":5.20,"r":2.95,"c":2.45,"p":2.36},
{"d":297.75,"b":5.38,"g":4.80,"r":2.75,"c":2.40,"p":2.355},
{"d":298,"b":6.10,"g":5.25,"r":3.03,"c":2.45,"p":2.36},
{"d":298.25,"b":5.35,"g":4.70,"r":2.78,"c":2.40,"p":2.36},
{"d":298.5,"b":5.85,"g":5.15,"r":2.90,"c":2.43,"p":2.36},
{"d":298.75,"b":5.28,"g":4.72,"r":2.73,"c":2.39,"p":2.36},
{"d":299,"b":5.90,"g":5.20,"r":2.98,"c":2.44,"p":2.36},
{"d":299.25,"b":5.25,"g":4.80,"r":2.70,"c":2.39,"p":2.36},
{"d":299.5,"b":5.80,"g":5.22,"r":2.92,"c":2.42,"p":2.36},
{"d":299.75,"b":5.35,"g":4.85,"r":2.74,"c":2.40,"p":2.355},
{"d":300,"b":5.40,"g":5.10,"r":2.78,"c":2.41,"p":2.36}
]},
"transform": [{"fold": ["b", "g", "r", "c", "p"], "as": ["k", "v"]}],
"layer": [
{
"mark": {"type": "line", "strokeWidth": 1, "clip": true},
"encoding": {
"x": {"field": "d", "type": "quantitative",
"scale": {"domain": [155, 302], "nice": false, "zero": false},
"axis": {"orient": "bottom", "title": "2006 date",
"values": [155, 162, 169, 176, 183, 190, 197, 204, 211, 218, 225, 232, 239, 246, 253, 260, 267, 274, 281, 288, 295, 302],
"labelExpr": "timeFormat(datetime(2006, 0, datum.value), '%m/%d')",
"labelFont": "Liberation Sans", "labelFontSize": 11, "labelFontWeight": "bold", "labelColor": "black",
"labelPadding": 15, "tickSize": -11, "tickColor": "#555", "domainColor": "#333", "labelFlush": false, "labelOverlap": false,
"grid": true, "gridColor": "#777", "gridDash": [1, 3],
"titleFont": "Liberation Sans", "titleFontSize": 11, "titleFontWeight": "bold", "titleColor": "black", "titlePadding": 3}},
"y": {"field": "v", "type": "quantitative",
"scale": {"domain": [2, 6.5], "nice": false, "zero": false},
"axis": {"orient": "left", "title": "temp (C)", "values": [2, 2.5, 3, 3.5, 4, 4.5, 5, 5.5, 6, 6.5], "format": ".1~f",
"labelFont": "Liberation Sans", "labelFontSize": 11, "labelFontWeight": "bold", "labelColor": "black",
"labelPadding": 14, "tickSize": -11, "tickColor": "#555", "domainColor": "#333", "labelFlush": false, "labelOverlap": false,
"grid": true, "gridColor": "#777", "gridDash": [1, 3],
"titleFont": "Liberation Sans", "titleFontSize": 11, "titleFontWeight": "bold", "titleColor": "black", "titlePadding": 5}},
"color": {"field": "k", "type": "nominal",
"scale": {"domain": ["b", "g", "r", "c", "p"], "range": ["#0000ff", "#008000", "#ff0000", "#00bfbf", "#bf00bf"]},
"legend": {"orient": "none", "legendX": 1029, "legendY": 320, "title": null, "fillColor": "white", "strokeColor": "#333", "padding": 4,
"symbolType": "stroke", "symbolSize": 900, "symbolStrokeWidth": 1, "clipHeight": 13, "labelFont": "Liberation Sans", "labelFontSize": 12, "labelFontWeight": "bold", "labelColor": "black", "labelOffset": 3, "rowPadding": 4,
"labelExpr": "{'b':'813m','g':'837m','r':'1372m','c':'1923m','p':'3028m'}[datum.label]"}}
}
},
{
"mark": {"type": "point", "opacity": 0},
"encoding": {
"x": {"field": "d", "type": "quantitative",
"scale": {"domain": [155, 302], "nice": false, "zero": false},
"axis": {"orient": "top", "title": null, "labels": false, "grid": false, "minExtent": 0, "maxExtent": 0,
"values": [155, 162, 169, 176, 183, 190, 197, 204, 211, 218, 225, 232, 239, 246, 253, 260, 267, 274, 281, 288, 295, 302],
"tickSize": -11, "tickColor": "#555", "domainColor": "#333"}},
"y": {"field": "v", "type": "quantitative",
"scale": {"domain": [2, 6.5], "nice": false, "zero": false},
"axis": {"orient": "right", "title": null, "labels": false, "grid": false, "minExtent": 0, "maxExtent": 0, "values": [2, 2.5, 3, 3.5, 4, 4.5, 5, 5.5, 6, 6.5],
"tickSize": -11, "tickColor": "#555", "domainColor": "#333"}}
}
}
],
"resolve": {"axis": {"x": "independent", "y": "independent"}}
}
